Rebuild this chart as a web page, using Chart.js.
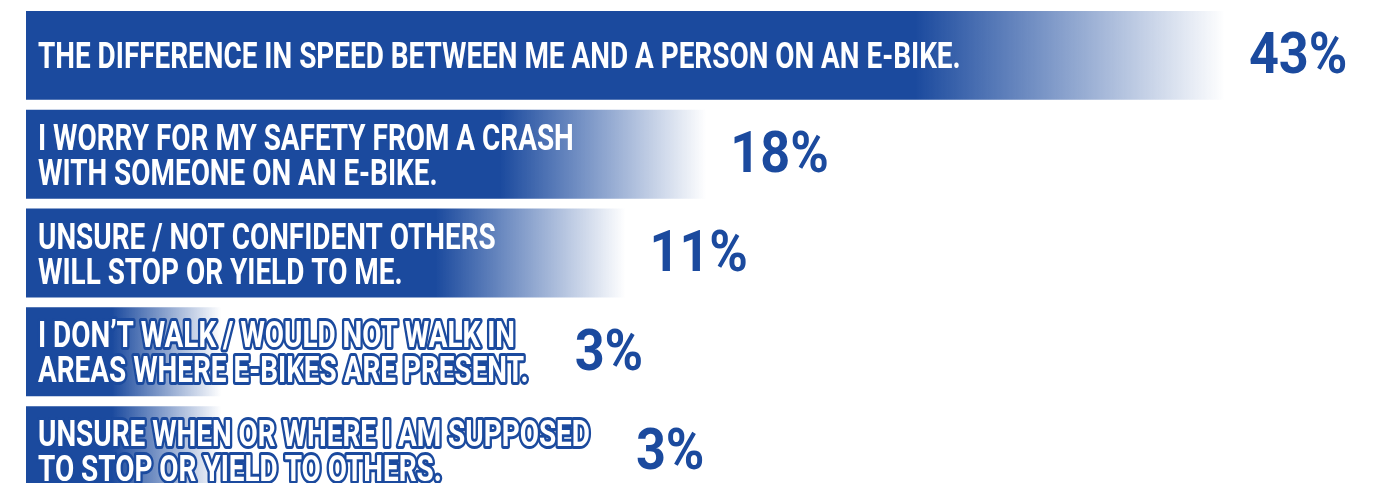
<!DOCTYPE html>
<html>
<head>
<meta charset="utf-8">
<script src="https://cdn.jsdelivr.net/npm/chart.js@4/dist/chart.umd.min.js"></script>
<style>
    html, body { margin: 0; padding: 0; background: #ffffff; overflow: hidden; }
</style>
</head>
<body>
<canvas id="barChart" width="1388" height="506"></canvas>
<script>

// Survey answers (one entry per bar, each line of the label is one string)
const answers = [
    ["THE DIFFERENCE IN SPEED BETWEEN ME AND A PERSON ON AN E-BIKE."],
    ["I WORRY FOR MY SAFETY FROM A CRASH", "WITH SOMEONE ON AN E-BIKE."],
    ["UNSURE / NOT CONFIDENT OTHERS", "WILL STOP OR YIELD TO ME."],
    ["I DON\u2019T WALK / WOULD NOT WALK IN", "AREAS WHERE E-BIKES ARE PRESENT."],
    ["UNSURE WHEN OR WHERE I AM SUPPOSED", "TO STOP OR YIELD TO OTHERS."]
];

// Share of respondents
const percents = [43, 18, 11, 3, 3];

// Bar lengths as drawn in the infographic (not to scale), read on the same % axis
const barLengths = [43, 24.4, 21.5, 7, 7];

const BLUE = "#1b4a9e";
const TEXT_SQUEEZE = 0.775;   // condensed look for the answer text
const VALUE_SQUEEZE = 0.9;

// ===============================
// Gradient fill for each bar
// ===============================

function barFill(context) {

    const chart = context.chart;
    const xScale = chart.scales.x;

    if (!xScale || context.dataIndex === undefined) return BLUE;

    const x0 = xScale.getPixelForValue(0);
    const x1 = xScale.getPixelForValue(barLengths[context.dataIndex]);
    const len = x1 - x0;

    if (!(len > 0)) return BLUE;

    const fade = Math.min(len, 70 + 0.2 * len);

    const grad = chart.ctx.createLinearGradient(x0, 0, x1, 0);
    grad.addColorStop(0, BLUE);
    grad.addColorStop((len - fade) / len, BLUE);
    grad.addColorStop(1, "rgba(27,74,158,0)");

    return grad;

}

// ===============================
// Answer text + percent labels
// ===============================

const labelPlugin = {
    id: "answerLabels",
    afterDatasetsDraw(chart) {

        const ctx = chart.ctx;
        const meta = chart.getDatasetMeta(0);
        const xScale = chart.scales.x;
        const left = xScale.getPixelForValue(0);

        meta.data.forEach(function (bar, i) {

            const lines = chart.data.labels[i];
            const barEnd = xScale.getPixelForValue(barLengths[i]);
            const lineHeight = 35;
            const firstBase = bar.y + 13 - (lines.length - 1) * lineHeight / 2;

            ctx.save();
            ctx.font = "700 36px Roboto";
            ctx.textBaseline = "alphabetic";
            ctx.textAlign = "left";

            let textEnd = 0;
            lines.forEach(function (line) {
                textEnd = Math.max(textEnd, left + 12 + ctx.measureText(line).width * TEXT_SQUEEZE);
            });

            // text running past the bar gets a blue outline
            const outlined = textEnd > barEnd;

            lines.forEach(function (line, k) {
                ctx.save();
                ctx.translate(left + 12, firstBase + k * lineHeight);
                ctx.scale(TEXT_SQUEEZE, 1);
                if (outlined) {
                    ctx.lineWidth = 6;
                    ctx.lineJoin = "round";
                    ctx.strokeStyle = BLUE;
                    ctx.strokeText(line, 0, 0);
                }
                ctx.fillStyle = "#ffffff";
                ctx.fillText(line, 0, 0);
                ctx.restore();
            });

            // percent value, after the bar or after the text, whichever is further
            ctx.font = "700 58px Roboto";
            ctx.fillStyle = BLUE;
            ctx.translate(Math.max(barEnd + 24, textEnd + 46), bar.y + 18);
            ctx.scale(VALUE_SQUEEZE, 1);
            ctx.fillText(percents[i] + "%", 0, 0);
            ctx.restore();

        });

    }
};

// ===============================
// Chart
// ===============================

const chartCtx = document.getElementById("barChart").getContext("2d");

const surveyChart = new Chart(chartCtx, {
    type: "bar",
    data: {
        labels: answers,
        datasets: [{
            label: "Share of respondents",
            data: barLengths,
            backgroundColor: barFill,
            borderWidth: 0,
            barPercentage: 0.9,
            categoryPercentage: 1
        }]
    },
    options: {
        indexAxis: "y",
        responsive: false,
        animation: false,
        layout: {
            padding: { left: 26, right: 0, top: 6, bottom: 6 }
        },
        plugins: {
            legend: { display: false },
            tooltip: { enabled: false }
        },
        scales: {
            x: {
                display: false,
                min: 0,
                max: 48.85
            },
            y: {
                display: false
            }
        }
    },
    plugins: [labelPlugin]
});

</script>
</body>
</html>
